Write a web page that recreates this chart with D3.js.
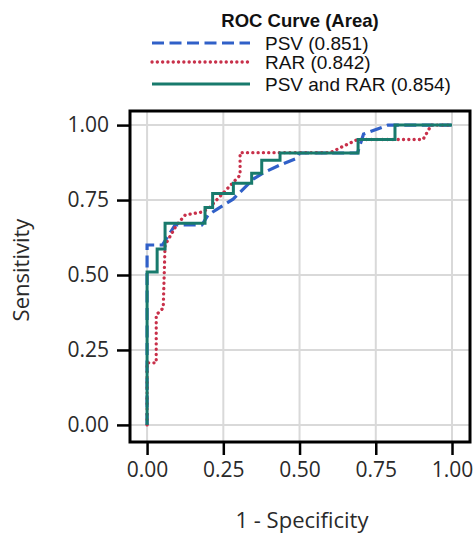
<!DOCTYPE html>
<html lang="en">
<head>
    <meta charset="UTF-8">
    <title>ROC Curve</title>
    <script src="https://d3js.org/d3.v7.min.js"></script>
    <style>
        body { margin: 0; background: #fff; }
        .tick text { font-family: "Open Sans", sans-serif; font-size: 21px; fill: #2a2a2a; }
        .axis-title { font-family: "Open Sans", sans-serif; font-size: 22px; fill: #2a2a2a; }
        .legend text { font-family: "Liberation Sans", Arial, sans-serif; fill: #111; }
    </style>
</head>
<body>
<svg id="chart" width="475" height="534"></svg>
<script>
    // ROC points: [1 - specificity, sensitivity]
    const psv = [
        [0, 0], [0, 0.6], [0.05, 0.6], [0.092, 0.667], [0.18, 0.667], [0.2, 0.7],
        [0.23, 0.72], [0.282, 0.753], [0.348, 0.82], [0.38, 0.84], [0.436, 0.867],
        [0.492, 0.89], [0.5, 0.907], [0.69, 0.907], [0.71, 0.97], [0.79, 1], [1, 1]
    ];
    const rar = [
        [0, 0], [0, 0.207], [0.03, 0.207], [0.03, 0.367], [0.053, 0.39], [0.059, 0.6],
        [0.097, 0.667], [0.125, 0.7], [0.18, 0.71], [0.2, 0.72], [0.305, 0.833],
        [0.305, 0.908], [0.6, 0.908], [0.69, 0.952], [0.905, 0.952], [0.928, 0.993],
        [0.93, 1], [1, 1]
    ];
    const both = [
        [0, 0], [0, 0.51], [0.033, 0.51], [0.033, 0.587], [0.059, 0.587], [0.059, 0.673],
        [0.19, 0.673], [0.19, 0.725], [0.215, 0.725], [0.215, 0.772], [0.283, 0.772],
        [0.283, 0.806], [0.343, 0.806], [0.343, 0.839], [0.376, 0.839], [0.376, 0.883],
        [0.436, 0.883], [0.436, 0.907], [0.692, 0.907], [0.692, 0.952], [0.813, 0.952],
        [0.813, 1], [1, 1]
    ];
    const seriesNames = ["PSV (0.851)", "RAR (0.842)", "PSV and RAR (0.854)"];
    const ticks = [0, 0.25, 0.5, 0.75, 1];

    const box = { left: 130, right: 470, top: 111, bottom: 442 };
    const svg = d3.select("#chart");

    const x = d3.scaleLinear().domain([-0.056, 1.059]).range([box.left, box.right]);
    const y = d3.scaleLinear().domain([-0.057, 1.047]).range([box.bottom, box.top]);

    // grid
    const grid = svg.append("g");
    grid.selectAll(".gx").data(ticks).enter().append("line")
        .attr("x1", d => x(d)).attr("x2", d => x(d))
        .attr("y1", box.top).attr("y2", box.bottom)
        .attr("stroke", "#d9d9d9").attr("stroke-width", 2);
    grid.selectAll(".gy").data(ticks).enter().append("line")
        .attr("x1", box.left).attr("x2", box.right)
        .attr("y1", d => y(d)).attr("y2", d => y(d))
        .attr("stroke", "#d9d9d9").attr("stroke-width", 2);

    const line = d3.line().x(d => x(d[0])).y(d => y(d[1]));

    const styles = [
        { data: psv, color: "#3060c8", width: 3.2, dash: "12,5.5", cap: "butt" },
        { data: rar, color: "#c8304a", width: 3.3, dash: "0.1,5.2", cap: "round" },
        { data: both, color: "#187a6c", width: 3, dash: null, cap: "butt" }
    ];

    styles.forEach(s => {
        svg.append("path")
            .datum(s.data)
            .attr("fill", "none")
            .attr("stroke", s.color)
            .attr("stroke-width", s.width)
            .attr("stroke-dasharray", s.dash)
            .attr("stroke-linecap", s.cap)
            .attr("d", line);
    });

    // border
    svg.append("rect")
        .attr("x", box.left).attr("y", box.top)
        .attr("width", box.right - box.left).attr("height", box.bottom - box.top)
        .attr("fill", "none").attr("stroke", "#000").attr("stroke-width", 3);

    // axes
    const fmt = d3.format(".2f");
    const xAxis = svg.append("g")
        .attr("transform", `translate(0,${box.bottom})`)
        .call(d3.axisBottom(x).tickValues(ticks).tickFormat(fmt).tickSize(13).tickPadding(7));
    const yAxis = svg.append("g")
        .attr("transform", `translate(${box.left},0)`)
        .call(d3.axisLeft(y).tickValues(ticks).tickFormat(fmt).tickSize(13).tickPadding(8));
    [xAxis, yAxis].forEach(a => {
        a.select(".domain").remove();
        a.selectAll(".tick line").attr("stroke", "#000").attr("stroke-width", 2.5);
    });

    svg.append("text").attr("class", "axis-title")
        .attr("x", 302).attr("y", 528).attr("text-anchor", "middle")
        .text("1 - Specificity");
    svg.append("text").attr("class", "axis-title")
        .attr("transform", "translate(29,270) rotate(-90)")
        .attr("text-anchor", "middle")
        .text("Sensitivity");

    // legend
    const legend = svg.append("g").attr("class", "legend");
    legend.append("text")
        .attr("x", 300).attr("y", 27).attr("text-anchor", "middle")
        .style("font-weight", "bold").style("font-size", "18.5px")
        .text("ROC Curve (Area)");
    const rowY = [43, 62, 84];
    styles.forEach((s, i) => {
        legend.append("line")
            .attr("x1", 152).attr("x2", 250)
            .attr("y1", rowY[i]).attr("y2", rowY[i])
            .attr("stroke", s.color).attr("stroke-width", s.width)
            .attr("stroke-dasharray", s.dash).attr("stroke-linecap", s.cap);
        legend.append("text")
            .attr("x", 265).attr("y", rowY[i] + 7)
            .style("font-size", "19px")
            .text(seriesNames[i]);
    });
</script>
</body>
</html>
